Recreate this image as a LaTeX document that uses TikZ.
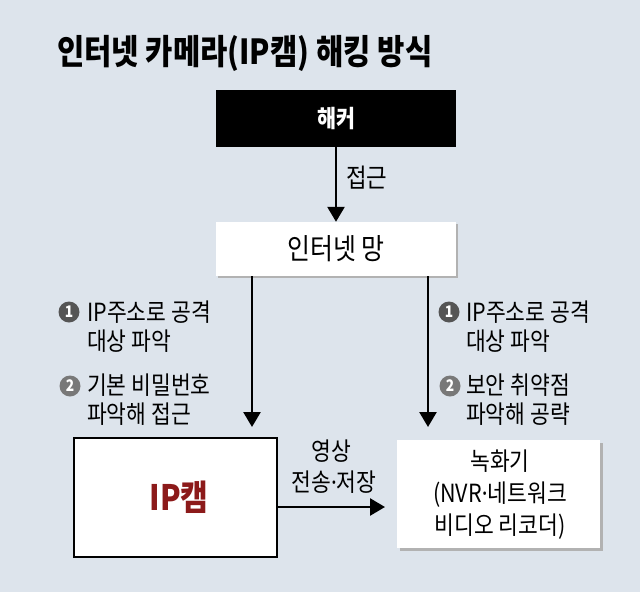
\documentclass[tikz,border=0pt]{standalone}
\usepackage{fontspec}
\setmainfont{Noto Sans CJK KR}[FakeStretch=0.86]
\newfontfamily\dotfont{Noto Sans}[FakeStretch=0.86]
\newcommand{\mdot}{{\dotfont ·}}
\usetikzlibrary{arrows.meta}
\definecolor{bg}{RGB}{221,228,236}
\definecolor{capred}{RGB}{140,26,26}
\definecolor{numA}{RGB}{85,85,85}
\definecolor{numB}{RGB}{120,120,120}
\begin{document}
\begin{tikzpicture}[x=1pt,y=-1pt,
  lbl/.style={inner sep=0pt,font=\fontsize{25}{29}\selectfont,align=left,anchor=west},
  num/.style={circle,inner sep=0pt,minimum size=21pt,text=white,font=\fontsize{16}{16}\selectfont\bfseries},
  arr/.style={line width=2.6pt,-{Triangle[length=15pt,width=17pt]}},
  whitebox/.style={fill=white,inner sep=0pt},
  shadow/.style={fill=black!30}]
\fill[bg] (0,0) rectangle (640,592);
\useasboundingbox (0,0) rectangle (640,592);
% title
\node[inner sep=0pt,anchor=west,font=\fontsize{34.5}{34}\selectfont\bfseries] (title) at (57,53) {인터넷 카메라(IP캠) 해킹 방식};
% hacker
\node[fill=black,minimum width=240pt,minimum height=57pt,inner sep=0pt,text=white,font=\fontsize{24}{24}\selectfont\bfseries] (hacker) at (336,118.5) {해커};
% internet
\fill[shadow] (218,224) rectangle (458,278);
\node[whitebox,minimum width=240pt,minimum height=54pt,font=\fontsize{29}{29}\selectfont] (net) at (336,249) {인터넷 망};
\draw[arr] (hacker.south) -- (net.north);
\node[inner sep=0pt,anchor=west,font=\fontsize{26}{26}\selectfont] (access) at (346,178) {접근};
% IP cam
\node[draw=black,line width=2pt,fill=white,minimum width=203pt,minimum height=119pt,inner sep=0pt] (cam) at (175.5,497.5) {};
\node[inner sep=0pt,text=capred,font=\fontsize{35}{35}\selectfont\bfseries] (camtxt) at (179,497) {IP캠};
% recorder
\fill[shadow] (399.5,442.5) rectangle (602.5,550.5);
\node[whitebox,minimum width=203pt,minimum height=108pt] (rec) at (498.5,494) {};
\node[inner sep=0pt,align=center,font=\fontsize{25}{32}\selectfont] (rectxt) at (500,495) {녹화기\\(NVR\mdot 네트워크\\비디오 리코더)};
% arrows from net
\coordinate (la) at (252,427);
\coordinate (ra) at (428,427);
\draw[arr] (net.south -| la) -- (la);
\draw[arr] (net.south -| ra) -- (ra);
\draw[arr] (cam.east |- 0,507) coordinate (cs) -- (385,507) coordinate (ce);
\node[inner sep=0pt,font=\fontsize{25}{25}\selectfont] (vid1) at (331,451) {영상};
\node[inner sep=0pt,font=\fontsize{25}{25}\selectfont] (vid2) at (334,482) {전송\mdot 저장};
% left labels
\node[num,fill=numA] (ln1) at (69,312) {1};
\node[lbl] (lt1) at (87,327) {IP주소로 공격\\대상 파악};
\node[num,fill=numB] (ln2) at (70,386) {2};
\node[lbl] (lt2) at (87,400) {기본 비밀번호\\파악해 접근};
% right labels
\node[num,fill=numA] (rn1) at (449,312) {1};
\node[lbl] (rt1) at (466,327) {IP주소로 공격\\대상 파악};
\node[num,fill=numB] (rn2) at (450,386) {2};
\node[lbl] (rt2) at (466,400) {보안 취약점\\파악해 공략};
\end{tikzpicture}
\end{document}
